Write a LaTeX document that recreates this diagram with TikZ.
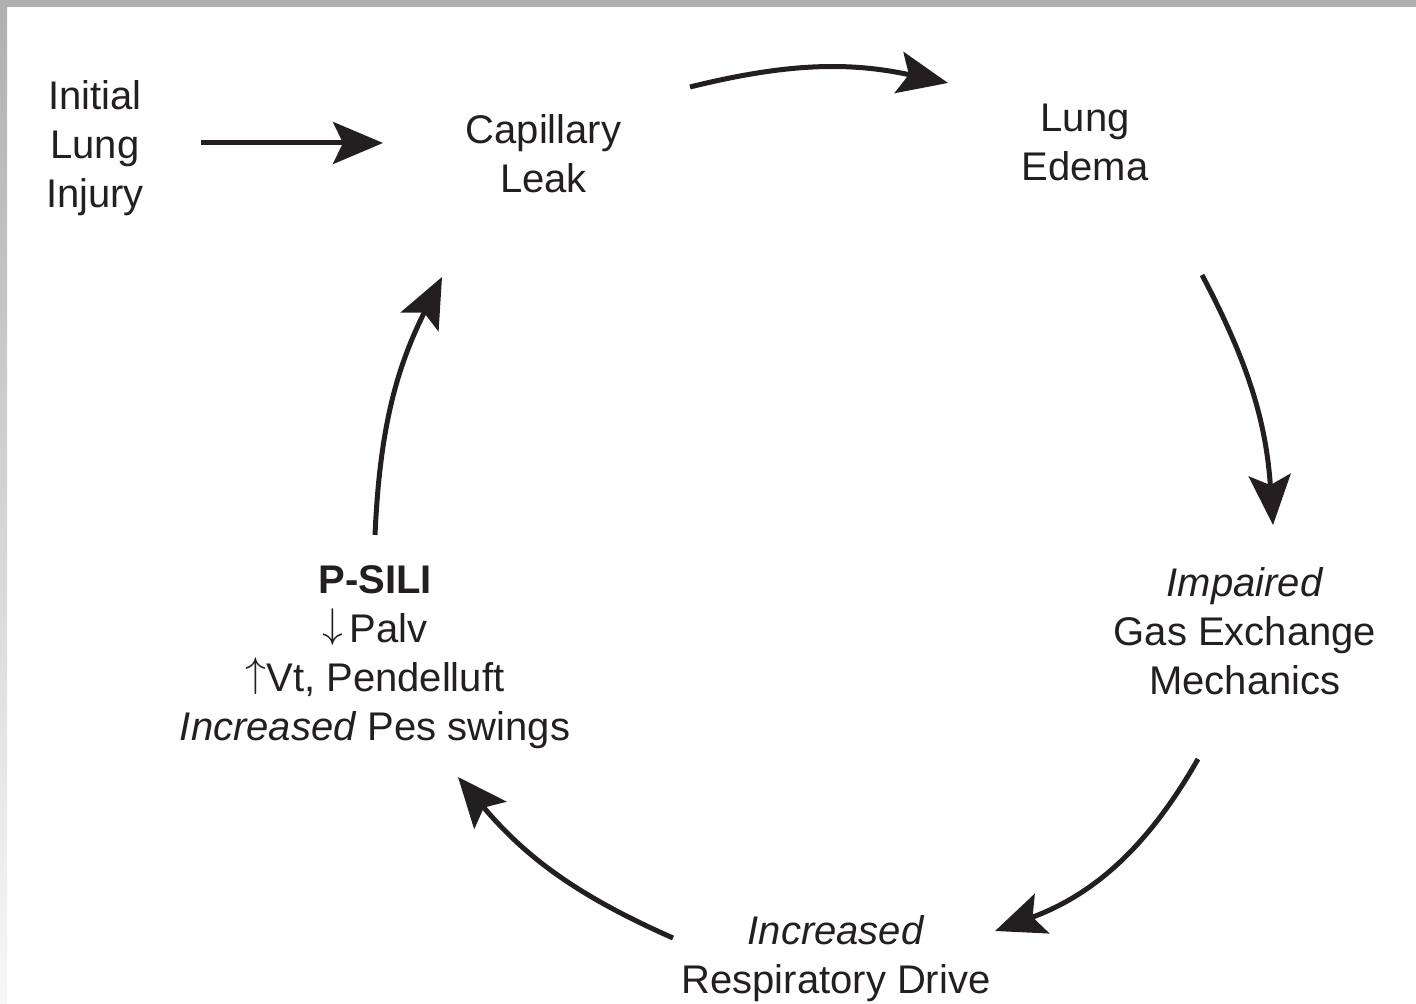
\documentclass[tikz,border=0pt]{standalone}
\usepackage{fontspec}
\setmainfont{Liberation Sans}
\usepackage{tikz}
\usetikzlibrary{positioning,arrows.meta}
\definecolor{ink}{HTML}{231F20}
\definecolor{frame}{HTML}{B0B0B0}
\newcommand{\dn}{\smash{\raisebox{2.5pt}{$\downarrow$}}}
\newcommand{\upar}{\smash{\raisebox{2.5pt}{$\uparrow$}}}

\begin{document}
\begin{tikzpicture}[
    x=0.5pt, y=0.5pt, on grid,
    >={Stealth[length=25pt, width=21pt, inset=5pt]},
    cyc/.style={->, draw=ink, line width=2.5pt},
    every node/.style={font=\fontsize{20pt}{24.5pt}\selectfont, align=center,
inner sep=0pt, text=ink}]

    \useasboundingbox (0,0) rectangle (1416,1004);
    % page edge of the scan
    \fill[frame] (0,997) rectangle (1416,1004);
    \shade[top color=frame, bottom color=white!97!black] (0,0) rectangle (7,997);

    \node (init) at (95,855.5) {Initial\\Lung\\Injury};
    \node [below right=2.5pt and 224.25pt of init] (cap) {Capillary\\Leak};
        \node [above right=5.5pt and 270.75pt of cap] (edema) {Lung\\Edema};
            \node [below right=244.25pt and 80pt of edema] (gas) {\textit{Impaired}\\Gas Exchange\\Mechanics};
                \node [below left=164pt and 204.5pt of gas] (drive) {\textit{Increased}\\Respiratory Drive};
                    \node [above left=151pt and 230.5pt of drive] (psili) {\textbf{P-SILI}\\\dn\,Palv\\\upar Vt, Pendelluft\\\textit{Increased} Pes swings};

    \draw[cyc] ([shift={(106,5.5)}]init.center) -- ([shift={(-160.5,10.5)}]cap.center);
    \draw[cyc] ([shift={(146.5,66.5)}]cap.center) to[bend left=13] ([shift={(-137,59.5)}]edema.center);
    \draw[cyc] ([shift={(117,-132.5)}]edema.center) to[bend left=12] ([shift={(28,106)}]gas.center);
    \draw[cyc] ([shift={(-47,-128)}]gas.center) to[bend left=20] ([shift={(159,28)}]drive.center);
    \draw[cyc] ([shift={(-163,21)}]drive.center) to[bend left=13] ([shift={(83,-120)}]psili.center);
    \draw[cyc] ([shift={(0,122)}]psili.center) to[bend left=12] ([shift={(-101.5,-123.5)}]cap.center);

\end{tikzpicture}
\end{document}
